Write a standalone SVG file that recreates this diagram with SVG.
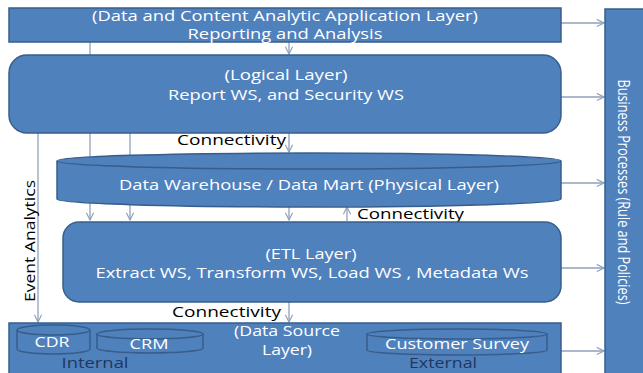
<svg xmlns="http://www.w3.org/2000/svg" width="643" height="373" viewBox="0 0 643 373">
<defs>
<style>
.n{fill:#4F81BD;stroke:#385D8A;stroke-width:1.5}
.t{fill:#fff;font-family:"Open Sans",Lato,sans-serif;font-size:15px;text-anchor:middle}
.s{font-size:14px}
.c{stroke:#8FA2BC;stroke-width:1.3;fill:none}
.l{fill:#000;font-family:"Open Sans",Lato,sans-serif;font-size:15px}
.d{fill:#1F3760;font-family:"Open Sans",Lato,sans-serif;font-size:15px;text-anchor:middle}
</style>
<marker id="a" viewBox="0 0 10 10" refX="9" refY="5" markerWidth="9" markerHeight="9" markerUnits="userSpaceOnUse" orient="auto">
<path d="M1,1 L9,5 L1,9" fill="none" stroke="#8FA2BC" stroke-width="1.3"/>
</marker>
</defs>
<rect width="643" height="373" fill="#fff"/>
<g id="connectors">
<line class="c" x1="90" y1="42" x2="90" y2="220" marker-end="url(#a)"/>
<line class="c" x1="130" y1="133" x2="130" y2="220" marker-end="url(#a)"/>
<line class="c" x1="289" y1="42" x2="289" y2="54" marker-end="url(#a)"/>
<line class="c" x1="289" y1="133" x2="289" y2="152" marker-end="url(#a)"/>
<line class="c" x1="289" y1="207" x2="289" y2="220" marker-end="url(#a)"/>
<line class="c" x1="289" y1="302" x2="289" y2="322" marker-end="url(#a)"/>
<line class="c" x1="347" y1="221" x2="347" y2="207" marker-end="url(#a)"/>
<line class="c" x1="38" y1="133" x2="38" y2="322" marker-end="url(#a)"/>
<line class="c" x1="561" y1="23" x2="604" y2="23" marker-end="url(#a)"/>
<line class="c" x1="561" y1="97" x2="604" y2="97" marker-end="url(#a)"/>
<line class="c" x1="561" y1="183" x2="604" y2="183" marker-end="url(#a)"/>
<line class="c" x1="561" y1="268" x2="604" y2="268" marker-end="url(#a)"/>
<line class="c" x1="561" y1="351" x2="604" y2="351" marker-end="url(#a)"/>
<text class="l" x="177" y="145" textLength="109" lengthAdjust="spacingAndGlyphs">Connectivity</text>
<text class="l" x="357" y="219" textLength="107" lengthAdjust="spacingAndGlyphs">Connectivity</text>
<text class="l" x="172" y="317" textLength="109" lengthAdjust="spacingAndGlyphs">Connectivity</text>
<text class="l" transform="translate(35,241) rotate(-90)" text-anchor="middle" textLength="122" lengthAdjust="spacingAndGlyphs">Event Analytics</text>
</g>
<g id="app-layer">
<rect class="n" x="9" y="8" width="552" height="34"/>
<text class="t s" x="285" y="21" textLength="386" lengthAdjust="spacingAndGlyphs">(Data and Content Analytic Application Layer)</text>
<text class="t s" x="285" y="39" textLength="195" lengthAdjust="spacingAndGlyphs">Reporting and Analysis</text>
</g>
<g id="logical-layer">
<rect class="n" x="9" y="55" width="552" height="78" rx="18"/>
<text class="t" x="286" y="80" textLength="123" lengthAdjust="spacingAndGlyphs">(Logical Layer)</text>
<text class="t" x="286" y="100" textLength="236" lengthAdjust="spacingAndGlyphs">Report WS, and Security WS</text>
</g>
<g id="physical-layer">
<path class="n" d="M57,161 A252,8 0 0 1 561,161 L561,199 A252,8 0 0 1 57,199 Z"/>
<path class="n" d="M57,161 A252,8 0 0 0 561,161" fill="none"/>
<text class="t" x="309" y="190" textLength="380" lengthAdjust="spacingAndGlyphs">Data Warehouse / Data Mart (Physical Layer)</text>
</g>
<g id="etl-layer">
<rect class="n" x="63" y="222" width="498" height="80" rx="16"/>
<text class="t" x="311" y="259" textLength="91" lengthAdjust="spacingAndGlyphs">(ETL Layer)</text>
<text class="t" x="312" y="278" textLength="433" lengthAdjust="spacingAndGlyphs">Extract WS, Transform WS, Load WS , Metadata Ws</text>
</g>
<g id="data-source-layer">
<rect class="n" x="9" y="323" width="552" height="60"/>
<text class="t s" x="287" y="336" textLength="106" lengthAdjust="spacingAndGlyphs">(Data Source</text>
<text class="t s" x="287" y="355" textLength="50" lengthAdjust="spacingAndGlyphs">Layer)</text>
<text class="d" x="95" y="368" textLength="67" lengthAdjust="spacingAndGlyphs">Internal</text>
<text class="d" x="443" y="368" textLength="68" lengthAdjust="spacingAndGlyphs">External</text>
</g>
<g id="cdr">
<path class="n" d="M17,330 A36.5,5 0 0 1 90,330 L90,349 A36.5,5 0 0 1 17,349 Z"/>
<path class="n" d="M17,330 A36.5,5 0 0 0 90,330" fill="none"/>
<text class="t" x="52" y="347" textLength="35" lengthAdjust="spacingAndGlyphs">CDR</text>
</g>
<g id="crm">
<path class="n" d="M97,334 A53,5 0 0 1 203,334 L203,348 A53,5 0 0 1 97,348 Z"/>
<path class="n" d="M97,334 A53,5 0 0 0 203,334" fill="none"/>
<text class="t" x="149" y="349" textLength="39" lengthAdjust="spacingAndGlyphs">CRM</text>
</g>
<g id="customer-survey">
<path class="n" d="M367,334 A90,5 0 0 1 547,334 L547,350 A90,5 0 0 1 367,350 Z"/>
<path class="n" d="M367,334 A90,5 0 0 0 547,334" fill="none"/>
<text class="t" x="457" y="349" textLength="144" lengthAdjust="spacingAndGlyphs">Customer Survey</text>
</g>
<g id="business-processes">
<rect class="n" x="605" y="9" width="40" height="375"/>
<text class="t" style="font-size:16px" transform="translate(618,192) rotate(90)" textLength="225" lengthAdjust="spacingAndGlyphs">Business Processes (Rule and Policies)</text>
</g>
</svg>
